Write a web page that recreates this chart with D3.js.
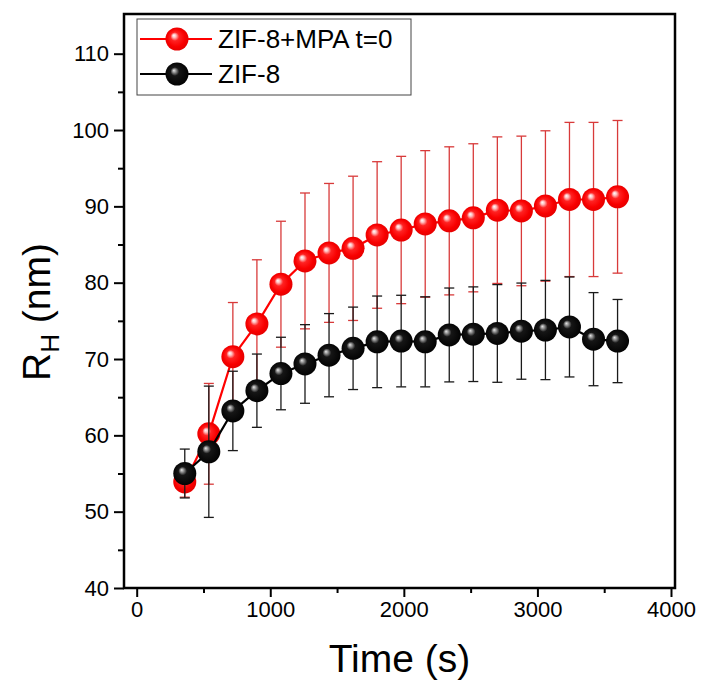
<!DOCTYPE html>
<html>
<head>
<meta charset="utf-8">
<script src="https://cdn.jsdelivr.net/npm/d3@7"></script>
<style>
  html, body { margin: 0; padding: 0; background: #fff; }
  svg { display: block; font-family: "Liberation Sans", Arial, sans-serif; }
</style>
</head>
<body>
<svg id="chart" width="705" height="682"></svg>
<script>
// ---- data ----
const times = [360, 540, 720, 900, 1080, 1260, 1440, 1620, 1800, 1980, 2160, 2340, 2520, 2700, 2880, 3060, 3240, 3420, 3600];
const mpaRH  = [53.9, 60.2, 70.3, 74.6, 79.8, 82.85, 83.9, 84.5, 86.25, 86.9, 87.7, 88.1, 88.5, 89.5, 89.4, 90.05, 90.9, 90.9, 91.25];
const mpaErr = [2.0, 6.6, 7.1, 8.4, 8.25, 8.9, 9.1, 9.45, 9.6, 9.65, 9.6, 9.7, 9.7, 9.6, 9.8, 9.85, 10.1, 10.1, 10.0];
const zifRH  = [55.0, 57.85, 63.2, 65.85, 68.1, 69.35, 70.5, 71.4, 72.25, 72.35, 72.25, 73.15, 73.25, 73.35, 73.65, 73.8, 74.2, 72.6, 72.35];
const zifErr = [3.2, 8.6, 5.2, 4.8, 4.75, 5.15, 5.45, 5.4, 6.0, 6.0, 5.9, 6.15, 6.2, 6.4, 6.3, 6.5, 6.55, 6.1, 5.45];
const seriesNames = ["ZIF-8+MPA t=0", "ZIF-8"];
const xTickValues = [0, 1000, 2000, 3000, 4000];
const xMinorValues = [500, 1500, 2500, 3500];
const yTickValues = [40, 50, 60, 70, 80, 90, 100, 110];
const yMinorValues = [45, 55, 65, 75, 85, 95, 105];

// ---- layout ----
const L = 124, R = 675, T = 14, B = 588;
const svg = d3.select("#chart");

const x = d3.scaleLinear().domain([-95, 4030]).range([L, R]);
const y = d3.scaleLinear().domain([40, 115.2]).range([B, T]);

// gradients for sphere markers
const defs = svg.append("defs");
function sphere(id, stops) {
  const g = defs.append("radialGradient").attr("id", id)
    .attr("cx", "50%").attr("cy", "50%").attr("r", "55%")
    .attr("fx", "36%").attr("fy", "34%");
  stops.forEach(s => g.append("stop").attr("offset", s[0]).attr("stop-color", s[1]));
}
sphere("gRed", [["0%", "#ffffff"], ["14%", "#ffc0c0"], ["34%", "#ff2222"], ["70%", "#f80000"], ["100%", "#e00000"]]);
sphere("gBlack", [["0%", "#e8e8e8"], ["13%", "#9a9a9a"], ["34%", "#161616"], ["100%", "#000000"]]);

// axes (ticks outward, left & bottom)
const xAxis = d3.axisBottom(x).tickValues(xTickValues).tickSize(9).tickPadding(4).tickFormat(d3.format("d"));
const xMinor = d3.axisBottom(x).tickValues(xMinorValues).tickSize(5).tickFormat("");
const yAxis = d3.axisLeft(y).tickValues(yTickValues).tickSize(10).tickPadding(5).tickFormat(d3.format("d"));
const yMinor = d3.axisLeft(y).tickValues(yMinorValues).tickSize(6).tickFormat("");

function styleAxis(g) {
  g.select(".domain").remove();
  g.selectAll(".tick line").attr("stroke", "#000").attr("stroke-width", 2);
  g.selectAll(".tick text").attr("fill", "#000").style("font-size", "22px")
    .style("font-family", "'Liberation Sans', Arial, sans-serif");
}
svg.append("g").attr("transform", `translate(0,${B})`).call(xAxis).call(styleAxis);
svg.append("g").attr("transform", `translate(0,${B})`).call(xMinor).call(styleAxis);
svg.append("g").attr("transform", `translate(${L},0)`).call(yAxis).call(styleAxis);
svg.append("g").attr("transform", `translate(${L},0)`).call(yMinor).call(styleAxis);

// frame
svg.append("rect").attr("x", L).attr("y", T).attr("width", R - L).attr("height", B - T)
  .attr("fill", "none").attr("stroke", "#000").attr("stroke-width", 2.5);

// series
function drawSeries(vals, errs, lineColor, errColor, grad) {
  const g = svg.append("g");
  const pts = times.map((t, i) => ({ t, v: vals[i], e: errs[i] }));
  const eb = g.append("g").attr("stroke", errColor).attr("stroke-width", 1.3).attr("fill", "none");
  pts.forEach(p => {
    const cx = x(p.t), y1 = y(p.v + p.e), y2 = y(p.v - p.e);
    eb.append("line").attr("x1", cx).attr("x2", cx).attr("y1", y1).attr("y2", y2);
    eb.append("line").attr("x1", cx - 5).attr("x2", cx + 5).attr("y1", y1).attr("y2", y1);
    eb.append("line").attr("x1", cx - 5).attr("x2", cx + 5).attr("y1", y2).attr("y2", y2);
  });
  g.append("path").datum(pts)
    .attr("d", d3.line().x(d => x(d.t)).y(d => y(d.v)))
    .attr("fill", "none").attr("stroke", lineColor).attr("stroke-width", 2.2);
  g.selectAll("circle").data(pts).join("circle")
    .attr("cx", d => x(d.t)).attr("cy", d => y(d.v)).attr("r", 11.5)
    .attr("fill", `url(#${grad})`);
}
drawSeries(mpaRH, mpaErr, "#ff0000", "#d83a3a", "gRed");
drawSeries(zifRH, zifErr, "#000000", "#1a1a1a", "gBlack");

// legend
const lg = svg.append("g");
lg.append("rect").attr("x", 137).attr("y", 19).attr("width", 274).attr("height", 76)
  .attr("fill", "#fff").attr("stroke", "#444").attr("stroke-width", 1);
const legendRows = [
  { name: seriesNames[0], color: "#ff0000", grad: "gRed", yy: 39 },
  { name: seriesNames[1], color: "#000000", grad: "gBlack", yy: 74 }
];
legendRows.forEach(r => {
  lg.append("line").attr("x1", 140).attr("x2", 212).attr("y1", r.yy).attr("y2", r.yy)
    .attr("stroke", r.color).attr("stroke-width", 2.2);
  lg.append("circle").attr("cx", 177).attr("cy", r.yy).attr("r", 11.5).attr("fill", `url(#${r.grad})`);
  lg.append("text").attr("x", 218).attr("y", r.yy + 9).text(r.name)
    .style("font-size", "26px").attr("fill", "#000");
});

// axis titles
svg.append("text").attr("x", (L + R) / 2).attr("y", 672).attr("text-anchor", "middle")
  .style("font-size", "39px").text("Time (s)");
const yt = svg.append("text").attr("transform", `translate(50,${(T + B) / 2 + 11}) rotate(-90)`)
  .attr("text-anchor", "middle").style("font-size", "39px");
yt.append("tspan").text("R");
yt.append("tspan").attr("dy", 9).style("font-size", "26px").text("H");
yt.append("tspan").attr("dy", -9).text(" (nm)");
</script>
</body>
</html>
